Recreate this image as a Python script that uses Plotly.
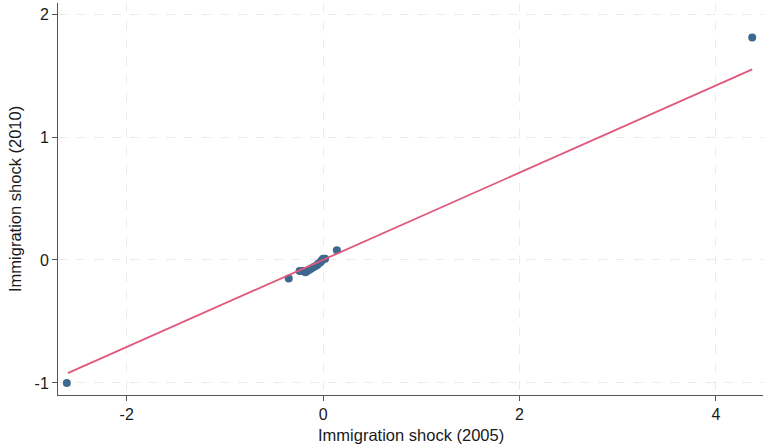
import plotly.graph_objects as go

# Scatter data
shock_2005 = [-2.61, -0.35, -0.24, -0.21, -0.18, -0.16, -0.14, -0.12, -0.10, -0.08,
              -0.06, -0.05, -0.03, -0.02, -0.01, 0.00, 0.02, 0.14, 4.37]
shock_2010 = [-1.00, -0.15, -0.09, -0.09, -0.10, -0.09, -0.08, -0.07, -0.06, -0.05,
              -0.04, -0.03, -0.02, -0.01, 0.00, 0.01, 0.01, 0.08, 1.81]

# Fitted line endpoints
fit_x = [-2.60, 4.37]
fit_y = [-0.92, 1.55]

x_ticks = [-2, 0, 2, 4]
x_tick_labels = ["-2", "0", "2", "4"]
y_ticks = [-1, 0, 1, 2]
y_tick_labels = ["-1", "0", "1", "2"]

x_title = "Immigration shock (2005)"
y_title = "Immigration shock (2010)"

point_color = "#3d6890"
line_color = "#e0587a"
font_family = "Liberation Sans, Arial, sans-serif"

fig = go.Figure()
fig.add_trace(go.Scatter(x=shock_2005, y=shock_2010, mode="markers",
                         marker=dict(color=point_color, size=8, line=dict(width=0)),
                         showlegend=False))
fig.add_trace(go.Scatter(x=fit_x, y=fit_y, mode="lines",
                         line=dict(color=line_color, width=1.8),
                         showlegend=False))

grid = dict(showgrid=True, gridcolor="#ebebeb", griddash="dash", gridwidth=1)

fig.update_layout(
    width=763, height=445,
    margin=dict(l=58, r=0, t=3, b=50),
    paper_bgcolor="white", plot_bgcolor="white",
    font=dict(family=font_family, size=16, color="#1a1a1a"),
    xaxis=dict(range=[-2.70, 4.48], tickvals=x_ticks, ticktext=x_tick_labels,
               ticks="outside", ticklen=5, automargin=False,
               tickcolor="#555", showline=True, linecolor="#555", linewidth=1,
               zeroline=False, **grid),
    yaxis=dict(range=[-1.098, 2.09], tickvals=y_ticks, ticktext=y_tick_labels,
               ticks="outside", ticklen=5, automargin=False,
               tickcolor="#555", showline=True, linecolor="#555", linewidth=1,
               zeroline=False, **grid),
    annotations=[
        dict(text=x_title, xref="paper", yref="paper", x=0.5, y=0,
             xanchor="center", yanchor="middle", yshift=-40, showarrow=False,
             font=dict(size=16.5)),
        dict(text=y_title, xref="paper", yref="paper", x=0, y=0.5,
             xanchor="center", yanchor="middle", xshift=-43, textangle=-90,
             showarrow=False, font=dict(size=16.5)),
    ],
)

fig.write_html("out.html", config={"displayModeBar": False},
               post_script="document.body.style.margin='0';document.body.style.overflow='hidden';")
